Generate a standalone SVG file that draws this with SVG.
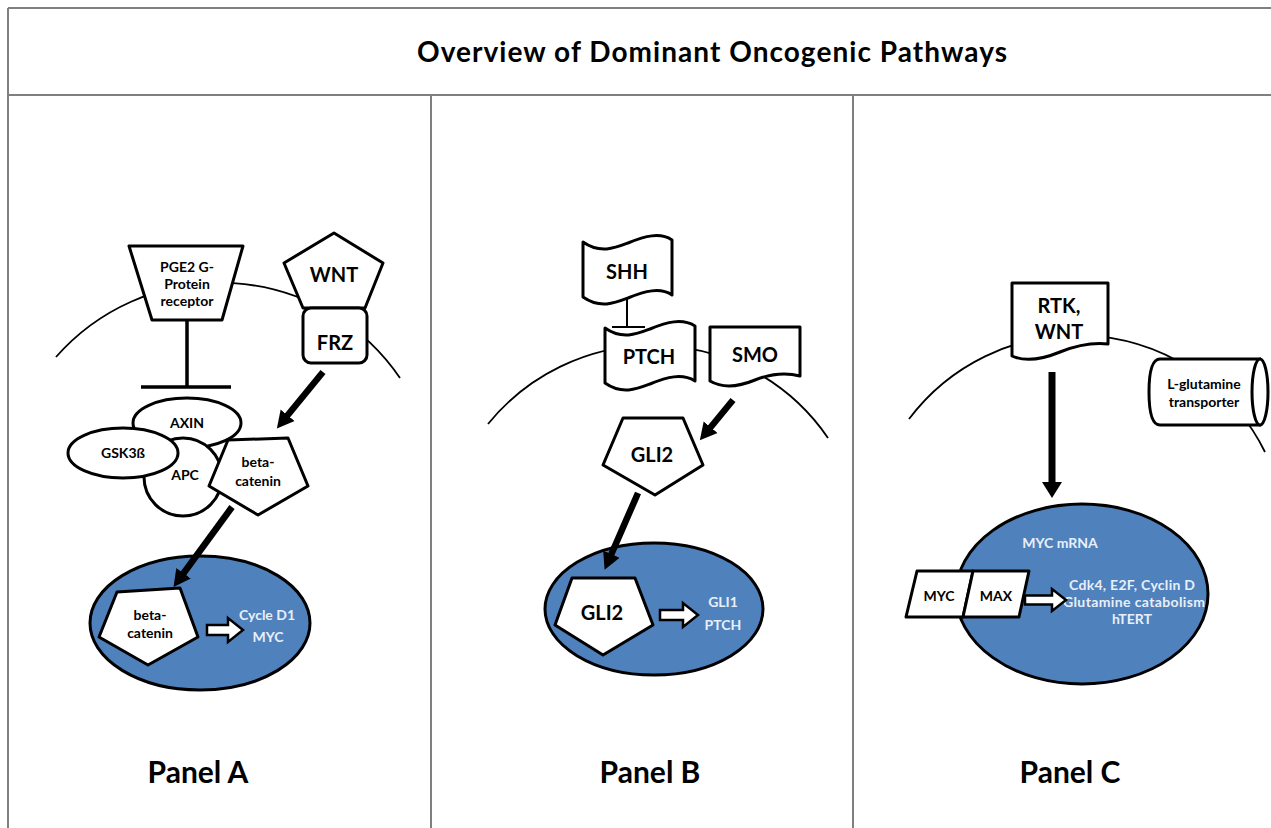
<svg xmlns="http://www.w3.org/2000/svg" width="1271" height="828" viewBox="0 0 1271 828">
<defs>
<style>
.frame{stroke:#7f7f7f;stroke-width:2;fill:none}
.mem{stroke:#000;stroke-width:1.8;fill:none}
.nuc{fill:#4f81bd;stroke:#000;stroke-width:3}
.shp{fill:#fff;stroke:#000;stroke-width:3;stroke-linejoin:round}
.arr{stroke:#000;stroke-width:6.5;fill:none}
.inh{stroke:#000;stroke-width:3.5;fill:none}
.hol{fill:#fff;stroke:#000;stroke-width:2.5;stroke-linejoin:miter}
text{font-family:Lato,"Liberation Sans",sans-serif;font-weight:bold;text-anchor:middle;fill:#000}
.s{font-size:14px}
.m{font-size:20px}
.w{fill:#e9eff8;font-size:14px}
.title{font-size:28px}
.panel{font-size:30px}
</style>
<marker id="ah" markerUnits="userSpaceOnUse" markerWidth="20" markerHeight="20" viewBox="0 -10 20 20" refX="1" refY="0" orient="auto">
<path d="M0,-9 L17,0 L0,9 Z" fill="#000"/>
</marker>
<marker id="ahb" markerUnits="userSpaceOnUse" markerWidth="22" markerHeight="22" viewBox="0 -11 22 22" refX="1" refY="0" orient="auto">
<path d="M0,-10 L16,0 L0,10 Z" fill="#000"/>
</marker>
</defs>
<rect width="1271" height="828" fill="#fff"/>
<g id="frame">
<path class="frame" d="M8,8 H1271 M8,8 V828 M8,95 H1271 M431,95 V828 M853,95 V828"/>
<text class="title" x="712" y="62" textLength="590">Overview of Dominant Oncogenic Pathways</text>
<text class="panel" x="198" y="783">Panel A</text>
<text class="panel" x="650" y="783">Panel B</text>
<text class="panel" x="1070" y="783">Panel C</text>
</g>
<g id="membranes">
<path class="mem" d="M56,357 A218,218 0 0,1 400,378"/>
<path class="mem" d="M488,424 A212,212 0 0,1 828,438"/>
<path class="mem" d="M909,419 A210,210 0 0,1 1265,452"/>
</g>
<g id="nucleusA"><ellipse class="nuc" cx="200" cy="623" rx="110" ry="67"/>
<text class="w" x="267" y="620">Cycle D1</text><text class="w" x="268" y="642">MYC</text></g>
<g id="nucleusB"><ellipse class="nuc" cx="654" cy="609" rx="109" ry="66"/>
<text class="w" x="723" y="607">GLI1</text><text class="w" x="723" y="630">PTCH</text></g>
<g id="nucleusC"><ellipse class="nuc" cx="1082" cy="594" rx="126" ry="90"/>
<text class="w" x="1060" y="548">MYC mRNA</text>
<text class="w" x="1132" y="590" textLength="126">Cdk4, E2F, Cyclin D</text>
<text class="w" x="1134" y="607" textLength="142">Glutamine catabolism</text>
<text class="w" x="1132" y="624">hTERT</text></g>

<g id="pge2"><path class="shp" d="M129,246 H243 L222,320 H152 Z"/>
<text class="s" x="187" y="272">PGE2 G-</text><text class="s" x="187" y="289">Protein</text><text class="s" x="187" y="306">receptor</text></g>
<g id="wnt"><path class="shp" d="M334,233 L383,263 L365,308 L303,308 L284,263 Z"/><text class="m" x="334" y="282">WNT</text></g>
<g id="frz"><rect class="shp" x="303" y="308" width="64" height="55" rx="8"/><text class="m" x="335" y="350">FRZ</text></g>
<g id="axin"><ellipse class="shp" cx="187" cy="423" rx="54" ry="25"/><text class="s" x="187" y="428">AXIN</text></g>
<g id="apc"><circle class="shp" cx="183" cy="477" r="39"/><text class="s" x="185" y="480">APC</text></g>
<g id="gsk3b"><ellipse class="shp" cx="123" cy="453" rx="55" ry="25"/><text class="s" x="123" y="458">GSK3ß</text></g>
<g id="betacatenin-cyto"><path class="shp" d="M228,440 L288,438 L308,486 L258,515 L209,486 Z"/>
<text class="s" x="258" y="467">beta-</text><text class="s" x="258" y="486">catenin</text></g>
<g id="betacatenin-nuc"><path class="shp" d="M117,592 L180,588 L198,637 L148,665 L99,637 Z"/>
<text class="s" x="150" y="620">beta-</text><text class="s" x="150" y="638">catenin</text></g>

<g id="shh"><path class="shp" d="M583,242 C600,254 615,248 628,243 C645,236 660,232 672,240 L672,295 C660,287 645,291 628,298 C615,303 600,309 583,297 Z"/><text class="m" x="627" y="279">SHH</text></g>
<g id="ptch"><path class="shp" d="M605,328 C622,340 637,334 650,329 C667,322 682,318 695,326 L695,381 C682,373 667,377 650,384 C637,389 622,395 605,383 Z"/><text class="m" x="649" y="364">PTCH</text></g>
<g id="smo"><path class="shp" d="M710,327 H800 V376 C785,372 770,374 755,380 C738,387 722,388 710,381 Z"/><text class="m" x="755" y="362">SMO</text></g>
<g id="gli2-cyto"><path class="shp" d="M623,418 L683,418 L703,465 L655,495 L603,465 Z"/><text class="m" x="652" y="462">GLI2</text></g>
<g id="gli2-nuc"><path class="shp" d="M572,578 L635,578 L653,625 L603,655 L555,625 Z"/><text class="m" x="602" y="620">GLI2</text></g>

<g id="rtk-wnt"><path class="shp" d="M1012,283 H1108 V344 C1090,342 1075,346 1060,352 C1043,359 1025,362 1012,356 Z"/>
<text class="m" x="1059" y="313">RTK,</text><text class="m" x="1059" y="339">WNT</text></g>
<g id="transporter"><path class="shp" d="M1261,359 H1160 C1151,359 1149,375 1149,392 C1149,409 1151,425 1160,425 H1261"/>
<ellipse class="shp" cx="1260" cy="392" rx="8" ry="33"/>
<text class="s" x="1204" y="389">L-glutamine</text><text class="s" x="1204" y="407">transporter</text></g>
<g id="myc"><path class="shp" d="M917,571 H973 L963,617 H906 Z"/><text class="s" x="939" y="601">MYC</text></g>
<g id="max"><path class="shp" d="M973,571 H1029 L1019,617 H963 Z"/><text class="s" x="996" y="601">MAX</text></g>

<g id="connectors">
<path class="inh" d="M187,321 V387 M141,387 H231"/>
<path stroke="#000" stroke-width="2" fill="none" d="M627,297 V327 M612,327 H645"/>
<line class="arr" x1="323" y1="372" x2="287" y2="416" marker-end="url(#ah)"/>
<line class="arr" x1="232" y1="507" x2="183" y2="574" marker-end="url(#ah)"/>
<line class="arr" x1="733" y1="400" x2="710" y2="428" marker-end="url(#ah)"/>
<line class="arr" x1="638" y1="493" x2="611" y2="555" marker-end="url(#ah)"/>
<line stroke="#000" stroke-width="7" x1="1052" y1="372" x2="1052" y2="483" marker-end="url(#ahb)"/>
<path class="hol" d="M207,625 H228 V618 L243,630 L228,642 V635 H207 Z"/>
<path class="hol" d="M660,610 H683 V603 L698,615 L683,627 V620 H660 Z"/>
<path class="hol" d="M1025,595.5 H1052 V589 L1066,600 L1052,611 V604.5 H1025 Z"/>
</g>
</svg>
